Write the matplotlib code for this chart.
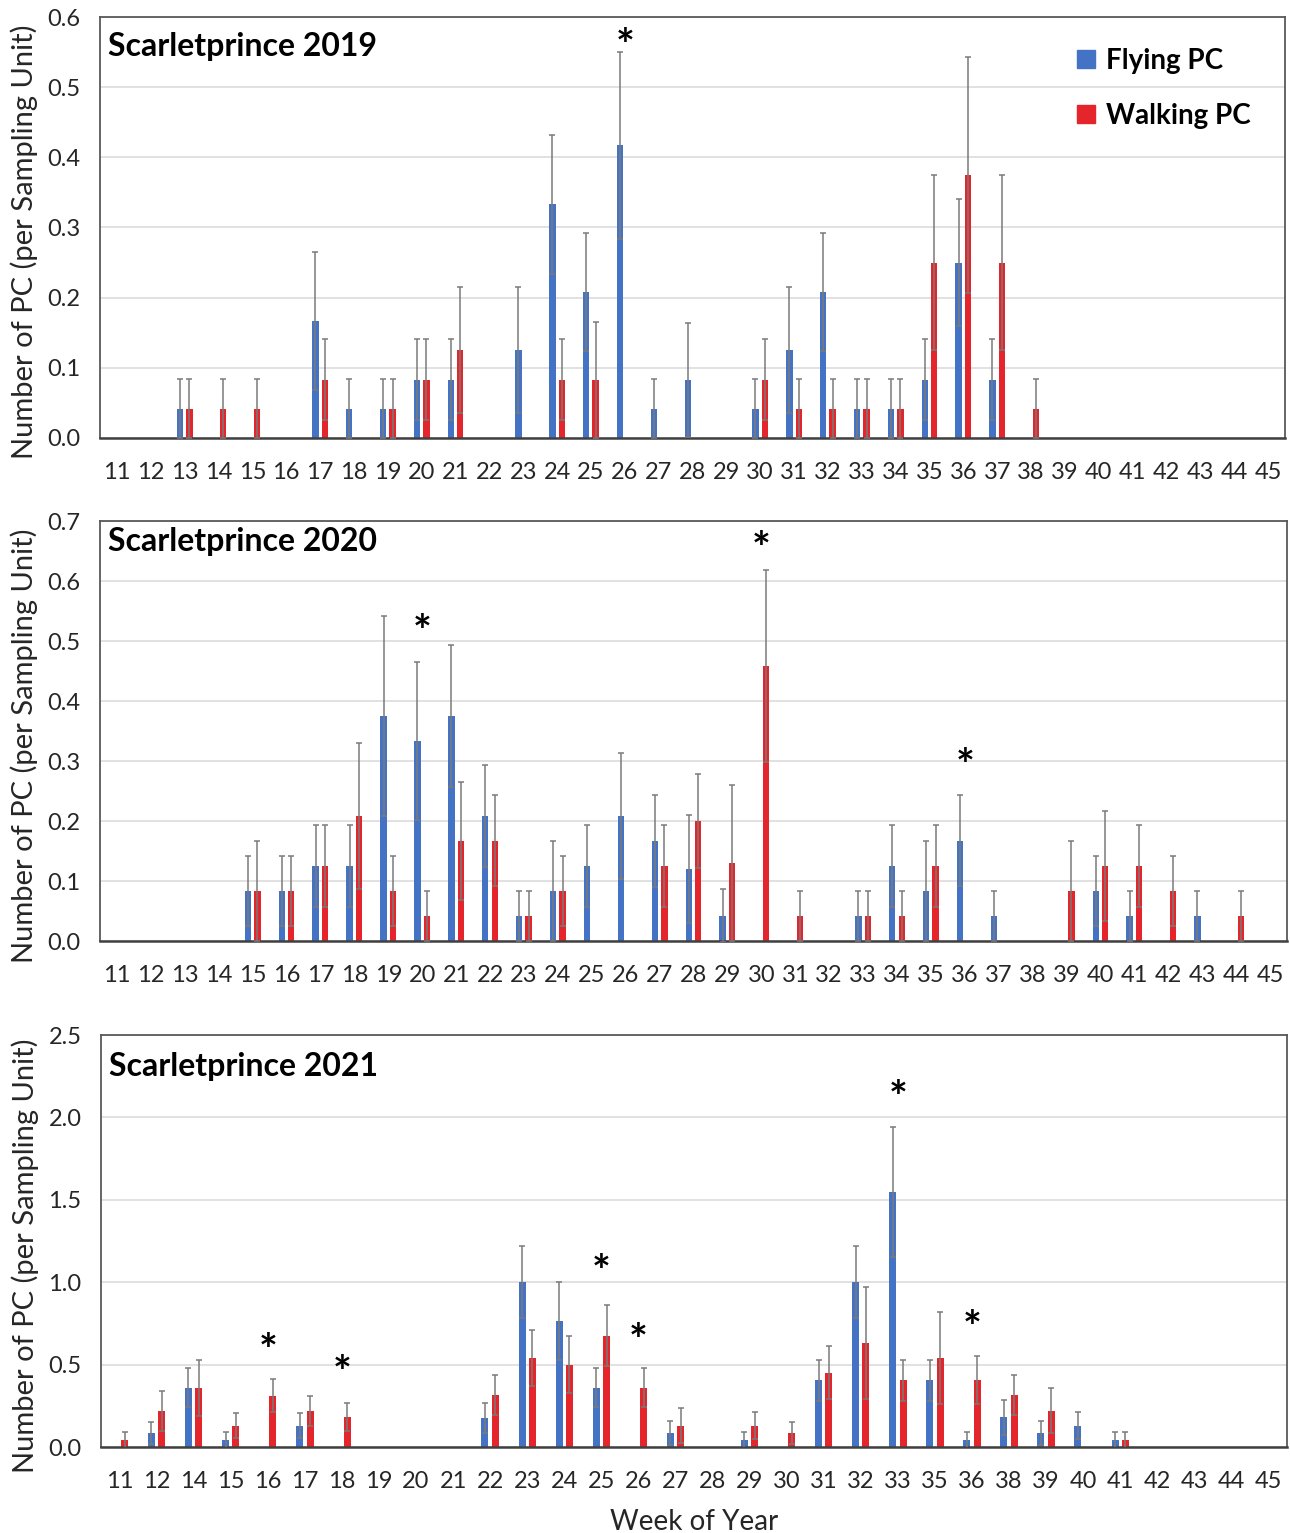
import numpy as np
import matplotlib
matplotlib.use('Agg')
import matplotlib.pyplot as plt
from matplotlib.patches import Patch
from matplotlib.ticker import FormatStrFormatter

plt.rcParams['font.family'] = ['Lato', 'DejaVu Sans']

BLUE = '#4472C4'
RED = '#E4262C'

# --- Scarletprince 2019 ---
weeks_2019 = list(range(11, 46))
fly_wk_2019 = [13, 17, 18, 19, 20, 21, 23, 24, 25, 26, 27, 28, 30, 31, 32, 33, 34, 35, 36, 37]
fly_mean_2019 = [.042, .167, .042, .042, .083, .083, .125, .333, .208, .417, .042, .083, .042, .125, .208, .042, .042, .083, .25, .083]
fly_se_2019 = [.042, .098, .042, .042, .058, .058, .09, .099, .084, .133, .042, .081, .042, .09, .084, .042, .042, .058, .091, .058]
wlk_wk_2019 = [13, 14, 15, 17, 19, 20, 21, 24, 25, 30, 31, 32, 33, 34, 35, 36, 37, 38]
wlk_mean_2019 = [.042, .042, .042, .083, .042, .083, .125, .083, .083, .083, .042, .042, .042, .042, .25, .375, .25, .042]
wlk_se_2019 = [.042, .042, .042, .058, .042, .058, .09, .058, .083, .058, .042, .042, .042, .042, .125, .168, .125, .042]
star_wk_2019 = [26]
star_y_2019 = [0.575]

# --- Scarletprince 2020 ---
weeks_2020 = list(range(11, 46))
fly_wk_2020 = [15, 16, 17, 18, 19, 20, 21, 22, 23, 24, 25, 26, 27, 28, 29, 33, 34, 35, 36, 37, 40, 41, 43]
fly_mean_2020 = [.083, .083, .125, .125, .375, .333, .375, .208, .042, .083, .125, .208, .167, .12, .042, .042, .125, .083, .167, .042, .083, .042, .042]
fly_se_2020 = [.058, .058, .068, .068, .167, .132, .118, .085, .042, .083, .068, .105, .077, .09, .044, .042, .068, .083, .076, .042, .058, .042, .042]
wlk_wk_2020 = [15, 16, 17, 18, 19, 20, 21, 22, 23, 24, 27, 28, 29, 30, 31, 33, 34, 35, 39, 40, 41, 42, 44]
wlk_mean_2020 = [.083, .083, .125, .208, .083, .042, .167, .167, .042, .083, .125, .2, .13, .458, .042, .042, .042, .125, .083, .125, .125, .083, .042]
wlk_se_2020 = [.083, .058, .068, .122, .058, .042, .098, .076, .042, .058, .068, .078, .13, .16, .042, .042, .042, .068, .083, .091, .068, .058, .042]
star_wk_2020 = [20, 30, 36]
star_y_2020 = [0.535, 0.673, 0.31]

# --- Scarletprince 2021 (some weeks not sampled) ---
weeks_2021 = [11, 12, 14, 15, 16, 17, 18, 19, 20, 21, 22, 23, 24, 25, 26, 27,
              28, 29, 30, 31, 32, 33, 35, 36, 38, 39, 40, 41, 42, 43, 44, 45]
fly_wk_2021 = [12, 14, 15, 17, 22, 23, 24, 25, 27, 29, 31, 32, 33, 35, 36, 38, 39, 40, 41]
fly_mean_2021 = [.085, .36, .04, .13, .175, 1.0, .765, .36, .085, .04, .405, 1.0, 1.545, .405, .04, .18, .085, .13, .04]
fly_se_2021 = [.065, .12, .05, .075, .09, .22, .235, .12, .07, .05, .125, .22, .395, .125, .05, .105, .07, .08, .05]
wlk_wk_2021 = [11, 12, 14, 15, 16, 17, 18, 22, 23, 24, 25, 26, 27, 29, 30, 31, 32, 33, 35, 36, 38, 39, 41]
wlk_mean_2021 = [.04, .22, .36, .13, .31, .22, .18, .315, .54, .5, .675, .36, .13, .13, .085, .45, .63, .405, .54, .405, .315, .22, .04]
wlk_se_2021 = [.05, .12, .17, .075, .10, .09, .085, .12, .17, .175, .185, .12, .105, .08, .065, .16, .34, .125, .28, .145, .12, .135, .05]
star_wk_2021 = [16, 18, 25, 26, 33, 36]
star_y_2021 = [0.65, 0.52, 1.13, 0.71, 2.19, 0.79]

W, H = 1290, 1533
fig = plt.figure(figsize=(W / 100, H / 100), dpi=100)


def draw_panel(rect, weeks, fw, fm, fs, ww, wm, ws, sw, sy, ymax, ystep, title, title_y):
    left, top, right, bottom = rect
    ax = fig.add_axes([left / W, 1 - bottom / H, (right - left) / W, (bottom - top) / H])
    pos = {w: i for i, w in enumerate(weeks)}
    bw, off = 0.19, 0.14
    xf = np.array([pos[w] for w in fw]) - off
    xw = np.array([pos[w] for w in ww]) + off
    ax.bar(xf, fm, bw, color=BLUE, zorder=2)
    ax.bar(xw, wm, bw, color=RED, zorder=2)
    eb = dict(fmt='none', ecolor='#7a7a7a', elinewidth=1.1, capsize=2.5, capthick=1.1, zorder=3)
    ax.errorbar(xf, fm, yerr=fs, **eb)
    ax.errorbar(xw, wm, yerr=ws, **eb)
    # significance asterisks, glyph shifted down so its centre sits on y
    for w, y in zip(sw, sy):
        ax.annotate('*', xy=(pos[w], y), xytext=(0, -9), textcoords='offset points',
                    ha='center', va='center', fontsize=32, fontweight='bold')

    ax.set_xlim(-0.5, len(weeks) - 0.5)
    ax.set_xticks(range(len(weeks)))
    ax.set_xticklabels([str(w) for w in weeks])
    ax.set_ylim(0, ymax)
    ax.set_yticks(np.arange(0, ymax + 1e-9, ystep))
    ax.yaxis.set_major_formatter(FormatStrFormatter('%.1f'))
    ax.tick_params(axis='both', length=0, labelsize=17, colors='#262626')
    ax.tick_params(axis='x', pad=17)
    ax.tick_params(axis='y', pad=14)
    ax.yaxis.grid(True, color='#dcdcdc', lw=1.2)
    ax.set_axisbelow(True)
    for s in ax.spines.values():
        s.set_color('#595959')
        s.set_linewidth(1.3)
    ax.spines['bottom'].set_color('#404040')
    ax.spines['bottom'].set_linewidth(1.8)
    ax.set_ylabel('Number of PC (per Sampling Unit)', fontsize=21, color='#262626')
    ax.yaxis.set_label_coords(-0.052, 0.465)
    ax.text(0.007, title_y, title, transform=ax.transAxes, fontsize=23,
            fontweight='bold', va='center', ha='left')
    return ax


ax1 = draw_panel((100, 17, 1285, 438), weeks_2019, fly_wk_2019, fly_mean_2019, fly_se_2019,
                 wlk_wk_2019, wlk_mean_2019, wlk_se_2019, star_wk_2019, star_y_2019,
                 0.6, 0.1, 'Scarletprince 2019', 0.93)
ax2 = draw_panel((100, 521, 1287, 941), weeks_2020, fly_wk_2020, fly_mean_2020, fly_se_2020,
                 wlk_wk_2020, wlk_mean_2020, wlk_se_2020, star_wk_2020, star_y_2020,
                 0.7, 0.1, 'Scarletprince 2020', 0.952)
ax3 = draw_panel((101, 1035, 1287, 1447), weeks_2021, fly_wk_2021, fly_mean_2021, fly_se_2021,
                 wlk_wk_2021, wlk_mean_2021, wlk_se_2021, star_wk_2021, star_y_2021,
                 2.5, 0.5, 'Scarletprince 2021', 0.923)

ax3.set_xlabel('Week of Year', fontsize=20, color='#262626')
ax3.xaxis.set_label_coords(0.5, -0.15)

handles = [Patch(color=BLUE), Patch(color=RED)]
ax1.legend(handles, ['Flying PC', 'Walking PC'], loc='upper left',
           bbox_to_anchor=(0.813, 0.96), frameon=False, borderpad=0,
           prop={'weight': 'bold', 'size': 20}, handlelength=0.62, handleheight=0.62,
           handletextpad=0.4, labelspacing=1.05)

fig.savefig('out.png', dpi=100)
